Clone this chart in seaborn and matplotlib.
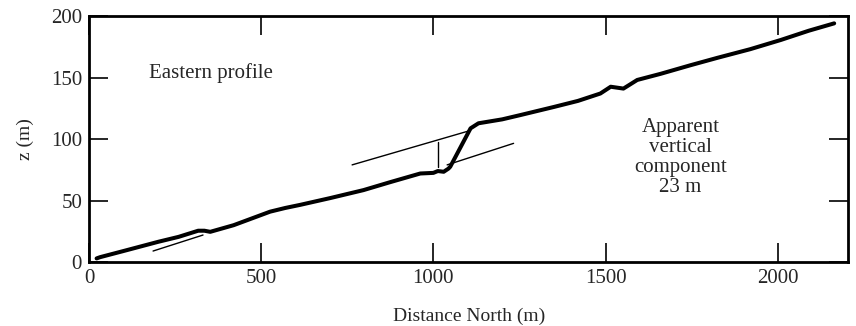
import numpy as np
import pandas as pd
import matplotlib
matplotlib.use('Agg')
import matplotlib.pyplot as plt
import seaborn as sns

# profile (distance north, elevation)
dist = [22, 32, 100, 201, 260, 317, 335, 352, 420, 526, 570, 613, 700, 797, 875,
        962, 1000, 1013, 1030, 1044, 1049, 1108, 1131, 1200, 1253, 1349, 1420,
        1485, 1515, 1552, 1592, 1660, 1747, 1825, 1920, 2009, 2090, 2164]
elev = [3, 4, 9, 16.5, 20.5, 25.5, 25.5, 24.6, 30, 41, 44, 46.5, 52, 58.5, 65,
        72, 72.5, 74, 73.4, 76, 77.5, 108.7, 112.8, 116, 119.5, 126, 131,
        137, 142.5, 141, 148, 153, 160, 166, 173, 180.5, 188, 194]

# construction lines
low_left_x = [186, 331]
low_left_z = [9, 22]
upper_x = [764, 1108]
upper_z = [79, 107]
lower_x = [1040, 1233]
lower_z = [79, 96.5]
offset_x = [1013, 1013]
offset_z = [77.5, 97.8]

sns.set_style('ticks')
plt.rcParams['font.family'] = ['Liberation Serif', 'DejaVu Serif']

df = pd.DataFrame({'dist': dist, 'z': elev})

fig = plt.figure(figsize=(8.56, 3.26), dpi=100)
ax = fig.add_axes([0.104, 0.196, 0.887, 0.755])

sns.lineplot(data=df, x='dist', y='z', ax=ax, color='black', linewidth=2.9,
             sort=False, estimator=None)
for xs, zs in [(low_left_x, low_left_z), (upper_x, upper_z),
               (lower_x, lower_z), (offset_x, offset_z)]:
    ax.plot(xs, zs, color='black', linewidth=1.0)

ax.set_xlim(0, 2205)
ax.set_ylim(0, 200)
ax.set_xticks([0, 500, 1000, 1500, 2000])
ax.set_yticks([0, 50, 100, 150, 200])
ax.tick_params(direction='in', length=14, width=1.4, top=True, right=True,
               labelsize=15, pad=5)
for s in ax.spines.values():
    s.set_linewidth(2.0)
    s.set_color('black')

ax.text(354, 154, 'Eastern profile', fontsize=15, ha='center', va='center')
ax.text(1718, 85, 'Apparent\nvertical\ncomponent\n23 m', fontsize=15,
        ha='center', va='center', linespacing=1.05)

ax.set_xlabel('Distance North (m)', fontsize=14, labelpad=14)
ax.set_ylabel('z (m)', fontsize=14, labelpad=12)

fig.savefig('out.png', dpi=100)
